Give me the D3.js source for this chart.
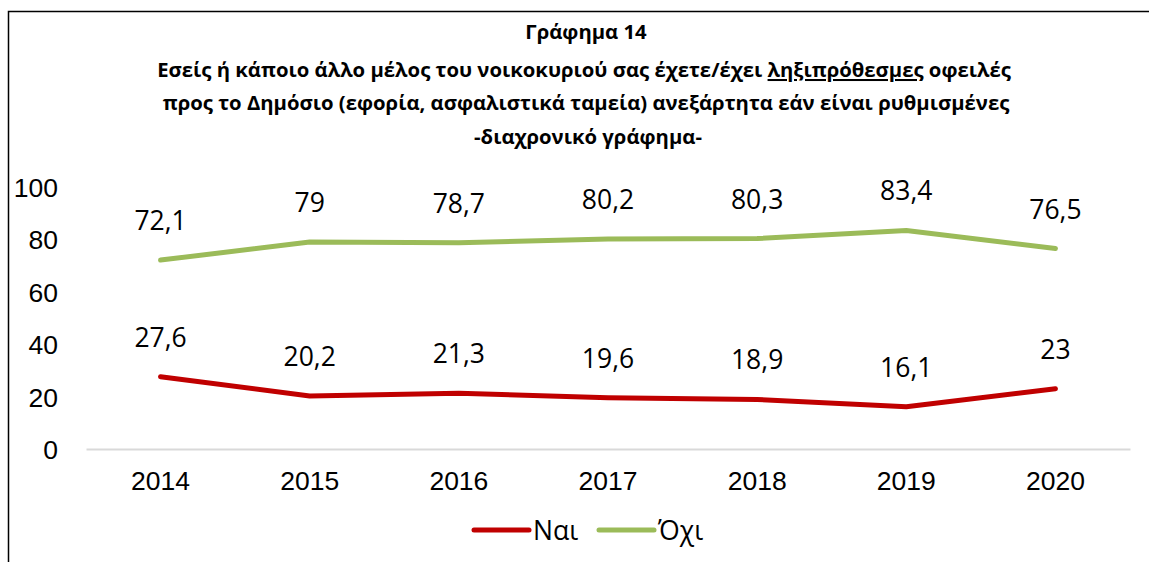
<!DOCTYPE html>
<html>
<head>
<meta charset="utf-8">
<script src="https://cdn.jsdelivr.net/npm/d3@7"></script>
<style>
  body { margin: 0; background: #fff; }
  svg { display: block; font-family: "Open Sans", "Noto Sans", sans-serif; }
  .title { font-weight: bold; font-size: 20.3px; fill: #000; }
  .tick text { font-size: 26.5px; fill: #000; }
  .lbl { font-size: 26.5px; fill: #000; }
  .leg { font-size: 26.5px; fill: #000; }
</style>
</head>
<body>
<div id="chart"></div>
<script>
/* -----------------------
data
------------------------- */

var years = ['2014', '2015', '2016', '2017', '2018', '2019', '2020'];
var nai = [27.6, 20.2, 21.3, 19.6, 18.9, 16.1, 23];
var oxi = [72.1, 79, 78.7, 80.2, 80.3, 83.4, 76.5];
var yTicks = [0, 20, 40, 60, 80, 100];

var seriesNames = ['Ναι', 'Όχι'];
var seriesColors = ['#c00000', '#9bbb59'];

/* -----------------------
main variables
------------------------- */

var width = 1149;
var height = 562;
var margin = {top: 187, right: 19, bottom: 113, left: 86};

var svg = d3.select('#chart')
	.append('svg')
	.attr('width', width)
	.attr('height', height);

// frame (only the top-left part is visible)
svg.append('rect')
	.attr('x', 8.5)
	.attr('y', 11.5)
	.attr('width', width + 20)
	.attr('height', height + 20)
	.attr('fill', 'none')
	.attr('stroke', '#000')
	.attr('stroke-width', 1.5);

/* -----------------------
title
------------------------- */

var title = svg.append('text')
	.attr('class', 'title')
	.attr('text-anchor', 'middle');

title.append('tspan').attr('x', 586).attr('y', 39).text('Γράφημα 14');

var l2 = title.append('tspan').attr('x', 584).attr('y', 77);
l2.append('tspan').text('Εσείς ή κάποιο άλλο μέλος του νοικοκυριού σας έχετε/έχει ');
l2.append('tspan').attr('text-decoration', 'underline').text('ληξιπρόθεσμες');
l2.append('tspan').text(' οφειλές');

title.append('tspan').attr('x', 586).attr('y', 110)
	.text('προς το Δημόσιο (εφορία, ασφαλιστικά ταμεία) ανεξάρτητα εάν είναι ρυθμισμένες');
title.append('tspan').attr('x', 588).attr('y', 144).text('-διαχρονικό γράφημα-');

/* -----------------------
scales
------------------------- */

var x = d3.scaleBand()
	.domain(years)
	.range([margin.left, width - margin.right]);

var y = d3.scaleLinear()
	.domain([0, 100])
	.range([height - margin.bottom, margin.top]);

var yAxis = svg.append('g')
	.attr('transform', 'translate(' + (margin.left - 28) + ',0)')
	.call(d3.axisLeft(y).tickValues(yTicks).tickSize(0).tickPadding(0));
yAxis.select('.domain').remove();
yAxis.selectAll('.tick text').attr('dy', '0.36em');

var xAxis = svg.append('g')
	.attr('transform', 'translate(0,' + y(0) + ')')
	.call(d3.axisBottom(x).tickSize(0).tickPadding(22));
xAxis.select('.domain').attr('stroke', '#d9d9d9').attr('stroke-width', 2);
xAxis.selectAll('.tick text').attr('dy', '0.71em');

/* -----------------------
lines
------------------------- */

var line = d3.line()
	.x(function(d, i) { return x(years[i]) + x.bandwidth() / 2; })
	.y(function(d) { return y(d); });

[nai, oxi].forEach(function(values, s) {
	svg.append('path')
		.datum(values)
		.attr('d', line)
		.attr('fill', 'none')
		.attr('stroke', seriesColors[s])
		.attr('stroke-width', 5)
		.attr('stroke-linecap', 'round')
		.attr('stroke-linejoin', 'round');

	svg.append('g').selectAll('text')
		.data(values)
		.enter()
		.append('text')
		.attr('class', 'lbl')
		.attr('text-anchor', 'middle')
		.attr('x', function(d, i) { return x(years[i]) + x.bandwidth() / 2; })
		.attr('y', function(d) { return y(d) - 30; })
		.text(function(d) { return String(d).replace('.', ','); });
});

/* -----------------------
legend
------------------------- */

var legX = [474, 599];
var legend = svg.append('g');
seriesNames.forEach(function(name, s) {
	legend.append('line')
		.attr('x1', legX[s]).attr('x2', legX[s] + 55)
		.attr('y1', 530).attr('y2', 530)
		.attr('stroke', seriesColors[s])
		.attr('stroke-width', 5)
		.attr('stroke-linecap', 'round');
	legend.append('text')
		.attr('class', 'leg')
		.attr('x', legX[s] + 59)
		.attr('y', 540)
		.text(name);
});
</script>
</body>
</html>
